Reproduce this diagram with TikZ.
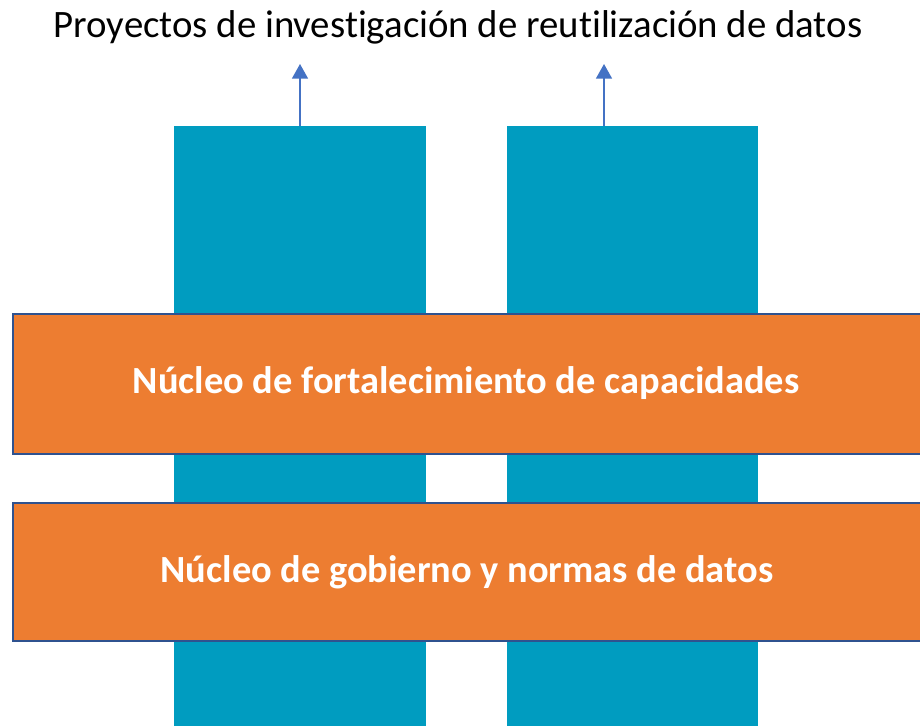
\documentclass[tikz,border=0pt]{standalone}
\usepackage{fontspec}
\setmainfont[Ligatures={NoCommon}]{Carlito}
\usetikzlibrary{arrows.meta}
\definecolor{teal1}{HTML}{009CC0}
\definecolor{orange1}{HTML}{ED7D31}
\definecolor{border1}{HTML}{2F528F}
\definecolor{arrow1}{HTML}{4472C4}
\begin{document}
\begin{tikzpicture}[x=0.75pt,y=-0.75pt,
  column/.style={fill=teal1,draw=none},
  band/.style={fill=orange1,draw=border1,line width=1.5pt},
  bandtext/.style={text=white,font=\bfseries\fontsize{28.8}{33}\selectfont},
  upar/.style={draw=arrow1,line width=1.2pt,-{Triangle[width=12pt,length=11pt]}}]
\useasboundingbox (0,0) rectangle (920,725);
\clip (0,0) rectangle (920,725);
\fill[white] (0,0) rectangle (920,725);
\node[font=\fontsize{29.1}{34}\selectfont,anchor=center] (title) at (458,27) {Proyectos de investigación de reutilización de datos};
\path[column] (174,126) rectangle (426,730);
\path[column] (507,126) rectangle (758,730);
\coordinate (c1top) at (300,126);
\coordinate (c2top) at (604,126);
\coordinate (a1tip) at (300,64);
\coordinate (a2tip) at (604,64);
\draw[upar] (c1top) -- (a1tip);
\draw[upar] (c2top) -- (a2tip);
\draw[band] (13,314) rectangle (935,454);
\draw[band] (13,503) rectangle (935,641);
\node[bandtext] (b1) at (466,383) {Núcleo de fortalecimiento de capacidades};
\node[bandtext] (b2) at (467,572) {Núcleo de gobierno y normas de datos};
\end{tikzpicture}
\end{document}
